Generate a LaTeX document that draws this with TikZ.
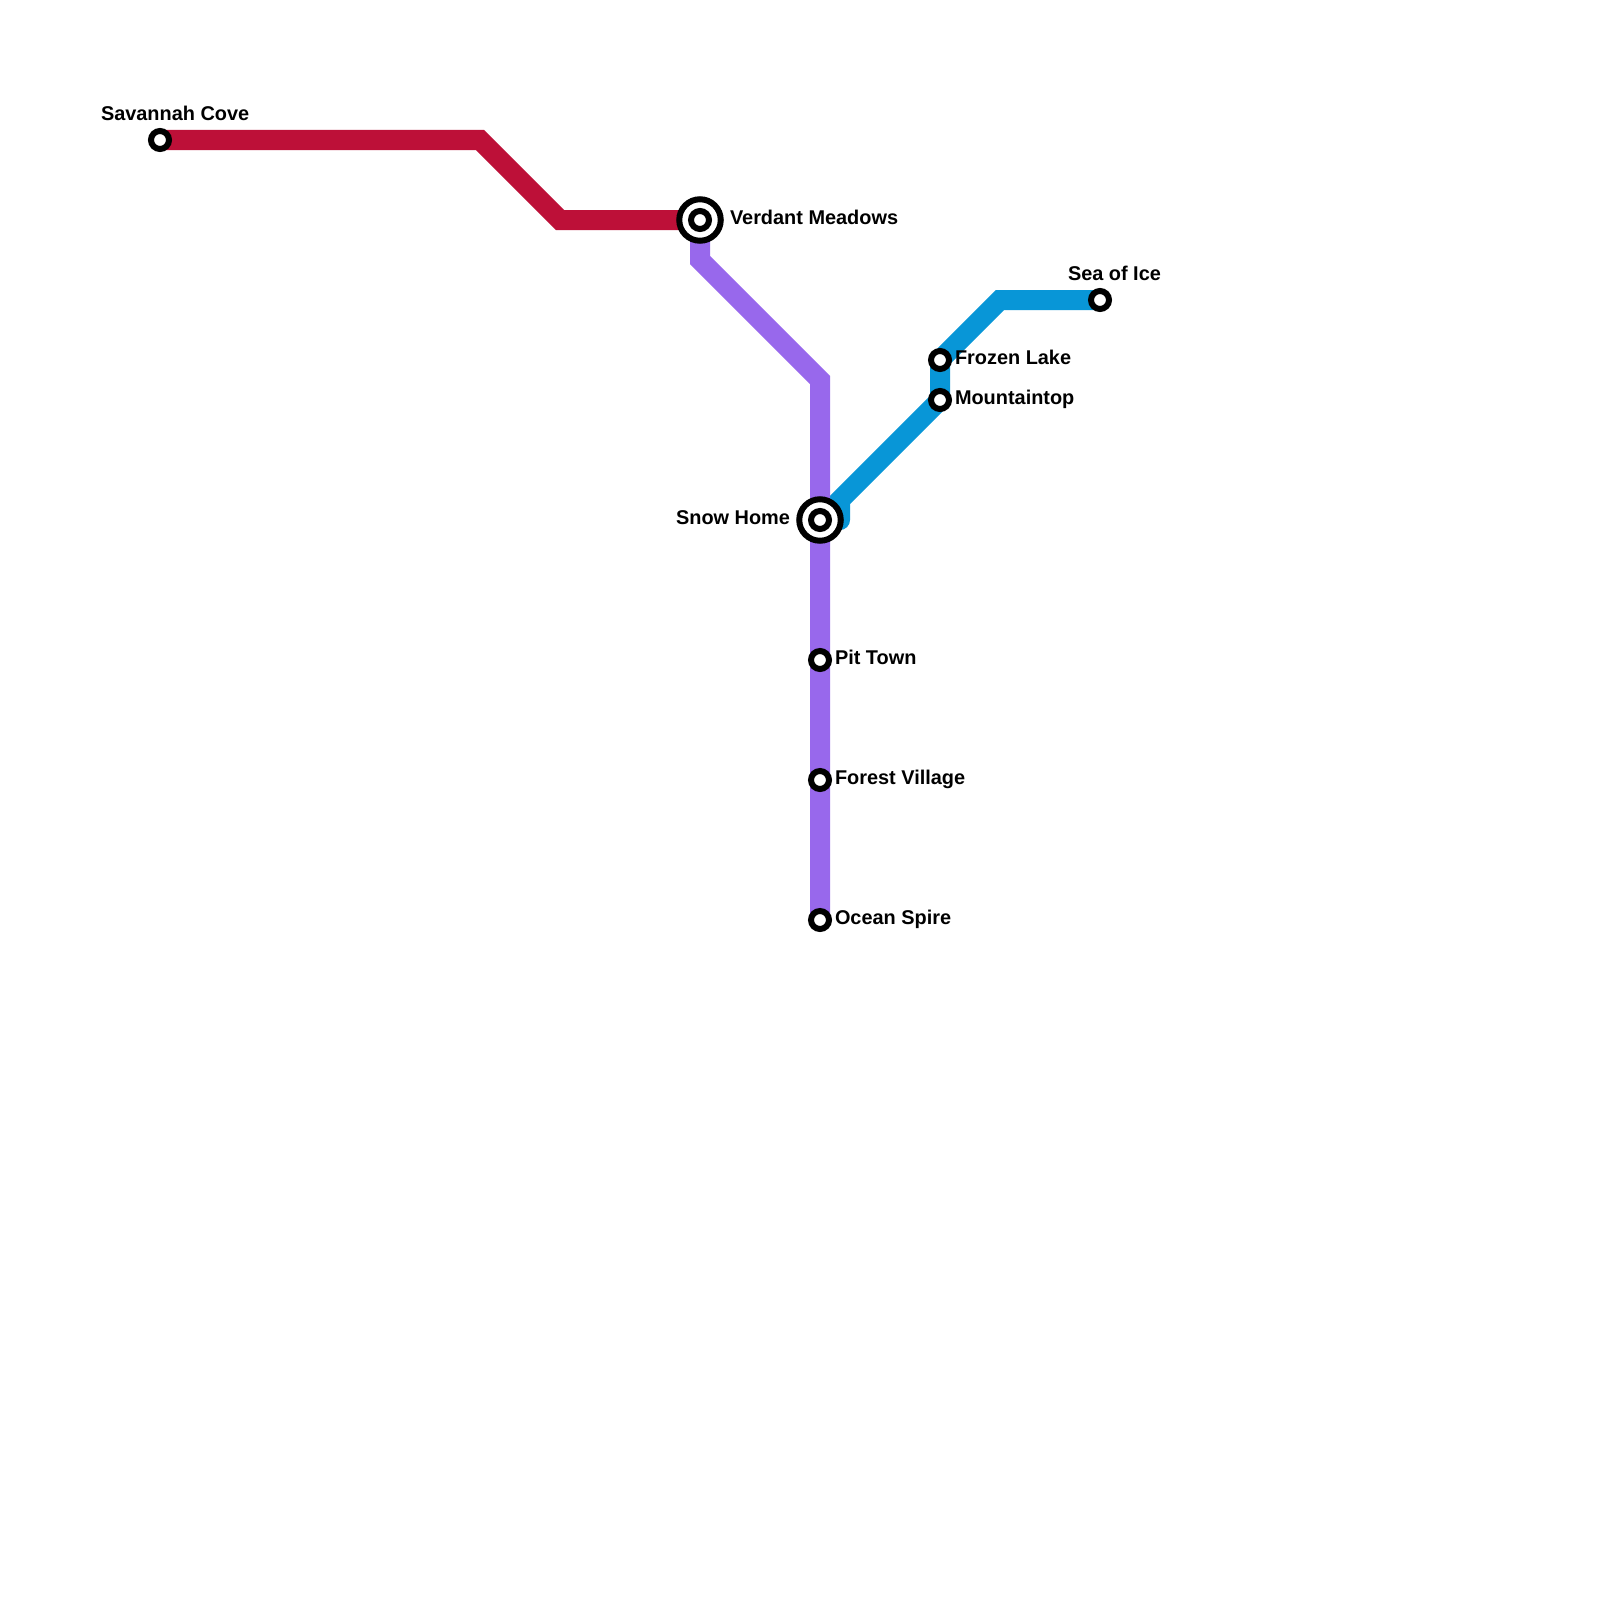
\documentclass[tikz,border=0pt]{standalone}
\usepackage{fontspec}
\setmainfont{Liberation Sans}
\definecolor{redline}{HTML}{BD1038}
\definecolor{purpleline}{HTML}{9868EC}
\definecolor{blueline}{HTML}{0896D7}
\tikzset{
  metro/.style={line width=20pt,line join=miter,line cap=round},
  stop/.style={circle,draw=black,fill=white,line width=6pt,minimum size=18pt,inner sep=0pt,outer sep=0pt},
  hub/.style={circle,draw=black,fill=white,line width=6pt,minimum size=41.5pt,inner sep=0pt,outer sep=0pt},
  lbl/.style={inner sep=0pt,outer sep=0pt,font=\fontsize{19.9}{24}\selectfont\bfseries,text=black}
}
\begin{document}
\begin{tikzpicture}[x=1pt,y=-1pt]
\useasboundingbox (0,0) rectangle (1600,1600);
\fill[white] (0,0) rectangle (1600,1600);
% route bends
\coordinate (r1) at (480,140);
\coordinate (r2) at (560,220);
\coordinate (p1) at (700,260);
\coordinate (p2) at (820,380);
\coordinate (b0) at (840,520);
\coordinate (b1) at (840,500);
\coordinate (b2) at (1000,300);
% station anchors
\coordinate (sc) at (160,140);
\coordinate (vm) at (700,220);
\coordinate (sh) at (820,520);
\coordinate (pt) at (820,660);
\coordinate (fv) at (820,780);
\coordinate (os) at (820,920);
\coordinate (fl) at (940,360);
\coordinate (mt) at (940,400);
\coordinate (si) at (1100,300);
% lines
\draw[metro,redline] (sc) -- (r1) -- (r2) -- (vm);
\draw[metro,blueline] (b0) -- (b1) -- (mt) -- (fl) -- (b2) -- (si);
\draw[metro,purpleline] (vm) -- (p1) -- (p2) -- (sh) -- (pt) -- (fv) -- (os);
% stations
\node[stop] (scs) at (sc) {};
\node[hub] (vmo) at (vm) {};
\node[stop] (vms) at (vm) {};
\node[hub] (sho) at (sh) {};
\node[stop] (shs) at (sh) {};
\node[stop] (pts) at (pt) {};
\node[stop] (fvs) at (fv) {};
\node[stop] (oss) at (os) {};
\node[stop] (fls) at (fl) {};
\node[stop] (mts) at (mt) {};
\node[stop] (sis) at (si) {};
% labels
\node[lbl,anchor=base west] (l1) at (101,120.5) {Savannah Cove};
\node[lbl,anchor=base west] (l2) at (730,224.7) {Verdant Meadows};
\node[lbl,anchor=base west] (l3) at (1068,280.5) {Sea of Ice};
\node[lbl,anchor=base west] (l4) at (955,364.7) {Frozen Lake};
\node[lbl,anchor=base west] (l5) at (955,404.7) {Mountaintop};
\node[lbl,anchor=base east] (l6) at (790,524.7) {Snow Home};
\node[lbl,anchor=base west] (l7) at (835,664.7) {Pit Town};
\node[lbl,anchor=base west] (l8) at (835,784.7) {Forest Village};
\node[lbl,anchor=base west] (l9) at (835,924.7) {Ocean Spire};
\end{tikzpicture}
\end{document}
